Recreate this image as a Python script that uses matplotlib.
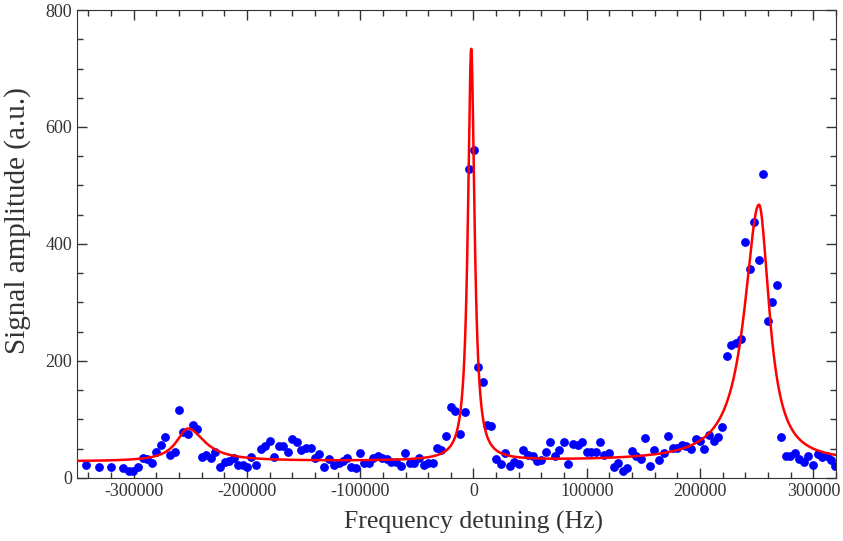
import numpy as np
import matplotlib
matplotlib.use('Agg')
import matplotlib.pyplot as plt
from matplotlib.ticker import MultipleLocator

# measured points (frequency detuning in Hz, signal amplitude in a.u.)
freq = [-342000, -330300, -320000, -309700, -304400, -300400, -296200, -292100,
        -288500, -283900, -280400, -276200, -272200, -268000, -263900, -259800,
        -256300, -252200, -248000, -244000, -239800,
        -236300, -231900, -227800, -223700, -219600, -215400, -211400, -207800,
        -203700, -199600, -196000, -192000, -187800, -184100, -179900, -175800,
        -171700, -167800, -163800, -159900, -156100, -152000, -147900, -143800,
        -140300, -136100, -132100, -127900,
        -123300, -118900, -115300, -111500, -107700, -103500, -100000, -96500,
        -92400, -88500, -84500, -80600, -76200, -72400, -68300, -64200, -60100,
        -56300, -52200, -48000, -44000, -40100, -36000, -32200, -28400, -24200,
        -20200, -16700, -11600, -7800,
        -4300, 100, 4000, 8000, 11900, 15900, 19800, 23900, 28000, 31800, 35900,
        40100, 43900, 48000, 52100, 55900, 60000, 63900, 67700, 71800, 75900,
        79700, 83800, 87900, 92100,
        96100, 100000, 103800, 107900, 111700, 115500, 119600, 123800, 127800,
        131700, 135800, 139600, 143700, 147800, 151600, 155800, 159600, 163700,
        167800, 171900, 175800, 179800, 183700, 187800, 191900, 196000, 200100,
        203600, 208000, 212200, 216000, 219800,
        223900, 227400, 231300, 235700, 239700, 243900, 247700, 251800, 255600,
        259700, 263900, 267900, 271800, 275900, 279700, 283800, 287700, 291700,
        295600, 299600, 303800, 307900, 311900, 315900, 318800]
signal = [22, 18, 19, 17, 12, 12, 19, 34,
          32, 26, 44, 56, 70, 40, 45, 117,
          78, 75, 91, 84, 36,
          39, 35, 44, 19, 28, 29, 34, 23,
          23, 19, 36, 23, 49, 55, 64, 36,
          54, 54, 44, 67, 61, 48, 51, 51,
          35, 41, 19, 32,
          22, 25, 29, 34, 19, 17, 42, 25,
          25, 35, 38, 35, 32, 28, 28, 21, 42,
          25, 25, 34, 22, 25, 26, 52, 48, 71,
          122, 115, 76, 112,
          529, 561, 190, 164, 91, 88, 32, 24, 42, 21, 28,
          24, 47, 39, 38, 29, 31, 44, 62, 38, 47,
          62, 24, 58, 56,
          61, 44, 45, 45, 61, 40, 42, 19, 25,
          12, 17, 46, 38, 32, 68, 21, 47, 31,
          42, 71, 52, 52, 56, 55, 50, 66, 63,
          50, 73, 63, 70, 87,
          209, 227, 230, 237, 403, 358, 438, 373, 519,
          268, 300, 330, 70, 38, 38, 43, 32, 27,
          38, 22, 41, 36, 38, 30, 21]

# fit parameters: offset + three (slightly asymmetric) lorentzians
offset = 28
peak_center = [-252000, -2000, 252000]
peak_height = [56, 704, 439]
width_low = [25000, 7000, 31000]
width_high = [36000, 7000, 22000]


def fit_curve(x):
    y = np.full_like(x, offset, dtype=float)
    for x0, a, wl, wh in zip(peak_center, peak_height, width_low, width_high):
        w = np.where(x < x0, wl, wh)
        y += a / (1 + (2 * (x - x0) / w) ** 2)
    return y


plt.rcParams['font.family'] = ['Liberation Serif', 'DejaVu Serif']
plt.rcParams['axes.unicode_minus'] = False

fig = plt.figure(figsize=(8.43, 5.41), dpi=100)
ax = fig.add_axes([0.0913, 0.1165, 0.9004, 0.865])

xs = np.linspace(-350000, 320000, 3000)
ax.plot(freq, signal, 'o', color='#0000ff', markersize=5.3, zorder=2)
ax.plot(xs, fit_curve(xs), color='#ff0000', linewidth=1.8, zorder=3)

ax.set_xlim(-350000, 320000)
ax.set_ylim(0, 800)
ax.xaxis.set_major_locator(MultipleLocator(100000))
ax.xaxis.set_minor_locator(MultipleLocator(20000))
ax.yaxis.set_major_locator(MultipleLocator(200))
ax.yaxis.set_minor_locator(MultipleLocator(50))
ax.tick_params(which='both', direction='in', top=True, right=True,
               labelsize=13, colors='#333333')
ax.tick_params(which='major', length=7, width=1)
ax.tick_params(which='minor', length=4, width=1)
for s in ax.spines.values():
    s.set_color('#333333')

ax.set_xlabel('Frequency detuning (Hz)', fontsize=18.5, color='#333333')
ax.xaxis.set_label_coords(0.522, -0.07)
ax.set_ylabel('Signal amplitude (a.u.)', fontsize=21, color='#333333')
ax.yaxis.set_label_coords(-0.06, 0.55)

plt.savefig('out.png', dpi=100)
